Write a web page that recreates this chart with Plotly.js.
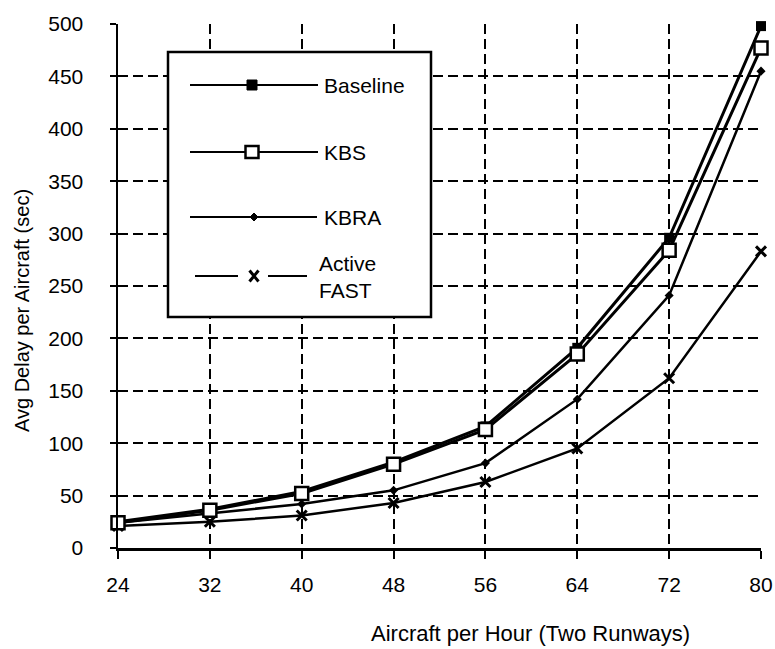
<!DOCTYPE html>
<html>
<head>
<meta charset="utf-8">
<script src="https://cdn.plot.ly/plotly-3.0.1.min.js"></script>
<style>html,body{margin:0;padding:0;background:#fff;}#chart{width:775px;height:649px;}</style>
</head>
<body>
<div id="chart"></div>
<script>
// ---- data ----
const aircraftPerHour = [24, 32, 40, 48, 56, 64, 72, 80];
const baseline   = [25, 37, 54, 82, 116, 191, 296, 498];
const kbs        = [24, 36, 52, 80, 113, 185, 284, 477];
const kbra       = [24, 33, 42, 55, 81, 142, 241, 455];
const activeFast = [21, 25, 31, 43, 63, 95, 162, 283];
const seriesNames = ["Baseline", "KBS", "KBRA", "Active<br>FAST"];
const xTickVals = [24, 32, 40, 48, 56, 64, 72, 80];
const yTickVals = [0, 50, 100, 150, 200, 250, 300, 350, 400, 450, 500];

// ---- geometry helpers (pixel -> paper) ----
const W = 775, H = 649, ML = 118, MR = 14, MT = 24, MB = 101;
const PW = W - ML - MR, PH = H - MT - MB;
const px = v => (v - ML) / PW;
const py = v => (H - MB - v) / PH;

const FONT = "Liberation Sans, Arial, Helvetica, sans-serif";
const LW = 2.5;

const traces = [
  {x: aircraftPerHour, y: activeFast, mode: "lines+markers", name: "Active FAST",
   line: {color: "#000", width: LW},
   marker: {symbol: "x-thin", size: 10, line: {color: "#000", width: 3}}},
  {x: aircraftPerHour, y: kbra, mode: "lines+markers", name: "KBRA",
   line: {color: "#000", width: LW},
   marker: {symbol: "diamond", size: 7, color: "#000"}},
  {x: aircraftPerHour, y: baseline, mode: "lines+markers", name: "Baseline",
   line: {color: "#000", width: LW + 0.5},
   marker: {symbol: "square", size: 10, color: "#000"}},
  {x: aircraftPerHour, y: kbs, mode: "lines+markers", name: "KBS",
   line: {color: "#000", width: LW + 0.5},
   marker: {symbol: "square", size: 13, color: "#fff", line: {color: "#000", width: 2.5}}}
].map(t => Object.assign(t, {showlegend: false, cliponaxis: false}));

// ---- custom legend box (to match the reference's long line samples) ----
const rowsY = [85, 152, 217, 276];
const shapes = [
  {type: "rect", xref: "paper", yref: "paper", x0: px(168), x1: px(431), y0: py(317), y1: py(52),
   line: {color: "#000", width: 2.5}, fillcolor: "#fff", layer: "above"}
];
const ann = [];
[[190, 318], [190, 318], [190, 317]].forEach((seg, i) => {
  shapes.push({type: "line", xref: "paper", yref: "paper", x0: px(seg[0]), x1: px(seg[1]),
    y0: py(rowsY[i]), y1: py(rowsY[i]), line: {color: "#000", width: 2}, layer: "above"});
});
shapes.push({type: "line", xref: "paper", yref: "paper", x0: px(195), x1: px(238), y0: py(rowsY[3]), y1: py(rowsY[3]), line: {color: "#000", width: 2}, layer: "above"});
shapes.push({type: "line", xref: "paper", yref: "paper", x0: px(268), x1: px(307), y0: py(rowsY[3]), y1: py(rowsY[3]), line: {color: "#000", width: 2}, layer: "above"});
shapes.push({type: "rect", xref: "paper", yref: "paper", xsizemode: "pixel", ysizemode: "pixel",
  xanchor: px(252), yanchor: py(rowsY[0]), x0: -5, x1: 5, y0: -5, y1: 5,
  fillcolor: "#000", line: {color: "#000", width: 1}, layer: "above"});
shapes.push({type: "rect", xref: "paper", yref: "paper", xsizemode: "pixel", ysizemode: "pixel",
  xanchor: px(252), yanchor: py(rowsY[1]), x0: -6.5, x1: 6.5, y0: -6, y1: 6,
  fillcolor: "#fff", line: {color: "#000", width: 2.5}, layer: "above"});
shapes.push({type: "path", xref: "paper", yref: "paper", xsizemode: "pixel", ysizemode: "pixel",
  xanchor: px(254), yanchor: py(rowsY[2]), path: "M-4,0L0,4L4,0L0,-4Z",
  fillcolor: "#000", line: {color: "#000", width: 1}, layer: "above"});
shapes.push({type: "path", xref: "paper", yref: "paper", xsizemode: "pixel", ysizemode: "pixel",
  xanchor: px(254), yanchor: py(rowsY[3]), path: "M-4.5,-5.5L4.5,5.5M-4.5,5.5L4.5,-5.5",
  line: {color: "#000", width: 3}, layer: "above"});
[[322, rowsY[0]], [322, rowsY[1]], [322, rowsY[2]], [317, rowsY[3] + 1]].forEach((p, i) => {
  ann.push({xref: "paper", yref: "paper", x: px(p[0]), y: py(p[1]), xanchor: "left", yanchor: "middle",
    text: seriesNames[i], showarrow: false, align: "left", font: {family: FONT, size: 21, color: "#000"}});
});
// axis titles
ann.push({xref: "paper", yref: "paper", x: px(530), y: py(634), xanchor: "center", yanchor: "middle",
  text: "Aircraft per Hour (Two Runways)", showarrow: false, font: {family: FONT, size: 22, color: "#000"}});
ann.push({xref: "paper", yref: "paper", x: px(22), y: py(310), xanchor: "center", yanchor: "middle",
  text: "Avg Delay per Aircraft (sec)", textangle: -90, showarrow: false, font: {family: FONT, size: 20, color: "#000"}});

const layout = {
  width: W, height: H,
  margin: {l: ML, r: MR, t: MT, b: MB, pad: 0},
  paper_bgcolor: "#fff", plot_bgcolor: "#fff",
  showlegend: false,
  font: {family: FONT, size: 21, color: "#000"},
  xaxis: {range: [24, 80], tickvals: xTickVals, ticktext: xTickVals.map(String),
    showline: true, linecolor: "#000", linewidth: 2.5, ticklabeloverflow: "allow",
    ticks: "outside", ticklen: 8, tickwidth: 2, tickcolor: "#000", ticklabelstandoff: 8,
    showgrid: true, gridcolor: "#000", gridwidth: 2, griddash: "10px,5px",
    zeroline: false, tickfont: {family: FONT, size: 21, color: "#000"}},
  yaxis: {range: [0, 500], tickvals: yTickVals, ticklabeloverflow: "allow",
    showline: true, linecolor: "#000", linewidth: 2.5,
    ticks: "outside", ticklen: 6, tickwidth: 2, tickcolor: "#000", ticklabelstandoff: 22,
    showgrid: true, gridcolor: "#000", gridwidth: 2, griddash: "10px,5px",
    zeroline: false, tickfont: {family: FONT, size: 21, color: "#000"}},
  shapes: shapes,
  annotations: ann
};

Plotly.newPlot("chart", traces, layout, {displayModeBar: false, staticPlot: true});
</script>
</body>
</html>
